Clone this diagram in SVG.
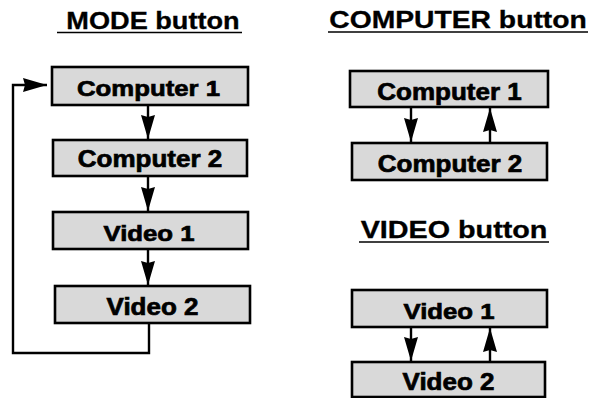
<svg xmlns="http://www.w3.org/2000/svg" width="605" height="398" viewBox="0 0 605 398">
<style>
.box{fill:#d9d9d9;stroke:#000;stroke-width:2.6}
.lbl{font-family:"Liberation Sans",Arial,sans-serif;font-weight:bold;font-size:23px;fill:#000;stroke:#000;stroke-width:0.7;text-anchor:middle}
.ttl{font-family:"Liberation Sans",Arial,sans-serif;font-weight:bold;font-size:23px;fill:#000;stroke:#000;stroke-width:0.3;text-anchor:middle}
.ul{stroke:#000;stroke-width:1.6}
.con{fill:none;stroke:#000;stroke-width:2.4}
</style>
<defs>
<marker id="ah" markerUnits="userSpaceOnUse" markerWidth="24" markerHeight="14" refX="24" refY="7" orient="auto">
<path d="M0,0 L24,7 L0,14 L2,7 z" fill="#000"/>
</marker>
</defs>
<g id="titles">
<text class="ttl" transform="translate(153,29) scale(1.18,1)">MODE button</text>
<line class="ul" x1="57" y1="32.5" x2="242" y2="32.5"/>
<text class="ttl" transform="translate(458,28) scale(1.23,1)">COMPUTER button</text>
<line class="ul" x1="328" y1="32" x2="588" y2="32"/>
<text class="ttl" transform="translate(454,238) scale(1.25,1)">VIDEO button</text>
<line class="ul" x1="359" y1="242" x2="549" y2="242"/>
</g>
<g id="mode-computer1"><rect class="box" x="52" y="67" width="196" height="38"/><text class="lbl" transform="translate(148.5,96) scale(1.12,1)">Computer 1</text></g>
<g id="mode-computer2"><rect class="box" x="53" y="140" width="194" height="36"/><text class="lbl" transform="translate(150,167) scale(1.13,1)">Computer 2</text></g>
<g id="mode-video1"><rect class="box" x="53" y="212" width="195" height="37"/><text class="lbl" transform="translate(149,241) scale(1.12,1)">Video 1</text></g>
<g id="mode-video2"><rect class="box" x="55" y="286" width="195" height="37"/><text class="lbl" transform="translate(152.5,315) scale(1.13,1)">Video 2</text></g>
<g id="comp-computer1"><rect class="box" x="350" y="71" width="198" height="36"/><text class="lbl" transform="translate(449.5,100) scale(1.13,1)">Computer 1</text></g>
<g id="comp-computer2"><rect class="box" x="352" y="143" width="195" height="37"/><text class="lbl" transform="translate(450,172) scale(1.13,1)">Computer 2</text></g>
<g id="video-video1"><rect class="box" x="352" y="290" width="195" height="37"/><text class="lbl" transform="translate(449,319) scale(1.12,1)">Video 1</text></g>
<g id="video-video2"><rect class="box" x="352" y="362" width="193" height="35"/><text class="lbl" transform="translate(448.5,390) scale(1.13,1)">Video 2</text></g>
<g id="connectors">
<line class="con" x1="148" y1="105" x2="148" y2="139" marker-end="url(#ah)"/>
<line class="con" x1="148" y1="176" x2="148" y2="211" marker-end="url(#ah)"/>
<line class="con" x1="148" y1="249" x2="148" y2="285" marker-end="url(#ah)"/>
<polyline class="con" points="149,323 149,353 13,353 13,85 47,85" marker-end="url(#ah)"/>
<line class="con" x1="411" y1="107" x2="411" y2="142" marker-end="url(#ah)"/>
<line class="con" x1="490" y1="143" x2="490" y2="108" marker-end="url(#ah)"/>
<line class="con" x1="411" y1="327" x2="411" y2="361" marker-end="url(#ah)"/>
<line class="con" x1="490" y1="362" x2="490" y2="328" marker-end="url(#ah)"/>
</g>
</svg>
